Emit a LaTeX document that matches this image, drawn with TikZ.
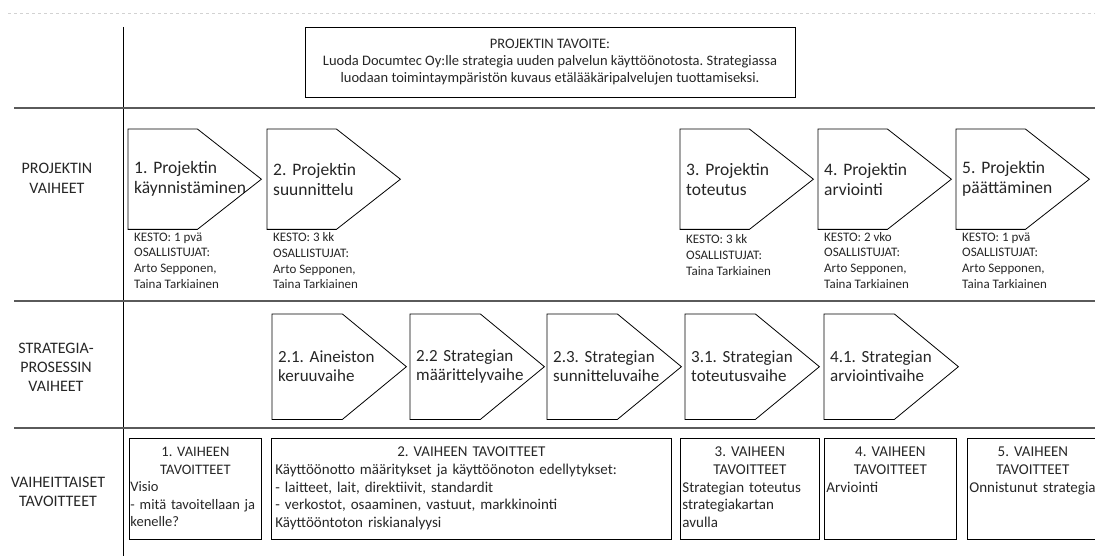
\documentclass[tikz,border=0pt]{standalone}
\usepackage{fontspec}
\setmainfont{Carlito}
\frenchspacing
\usetikzlibrary{positioning}
\definecolor{rivi}{HTML}{5a5a5a}
\definecolor{teksti}{HTML}{262626}

\tikzset{
  vaihe/.style={anchor=north west, minimum width=133pt, minimum height=100pt,
    text width=121pt, inner xsep=6pt, inner ysep=0pt, align=left,
    text=teksti, font=\fontsize{17.5}{20}\selectfont},
  alavaihe/.style={vaihe, minimum width=134pt, minimum height=105pt,
    text width=122pt, font=\fontsize{17}{19}\selectfont},
  kesto/.style={anchor=north west, inner sep=0pt, align=left, text=teksti,
    font=\fontsize{13}{15.7}\selectfont},
  otsikko/.style={align=center, text=teksti, font=\fontsize{16}{20}\selectfont},
  laatikko/.style={draw, line width=0.8pt, anchor=north west, minimum height=101pt},
  tavoite/.style={inner sep=0pt, text=teksti, align=left,
    font=\fontsize{15}{17.6}\selectfont}
}

\begin{document}
\begin{tikzpicture}[x=1pt,y=-1pt]
\useasboundingbox (0,0) rectangle (1095,556);

% rivit ja sarake
\draw[gray!35, dashed] (8,13) -- (1095,13);
\draw[line width=0.8pt] (123,27) -- (123,556);
\draw[rivi, line width=2.4pt] (14,108) -- (1095,108);
\draw[rivi, line width=2.4pt] (14,301) -- (1095,301);
\draw[rivi, line width=2.4pt] (14,428) -- (1095,428);

\node[draw, line width=0.8pt, minimum width=490pt, minimum height=70pt, align=center,
  text=teksti, font=\fontsize{14.5}{17}\selectfont] (tav) at (550,62)
{PROJEKTIN TAVOITE:\\Luoda Documtec Oy:lle strategia uuden palvelun käyttöönotosta. Strategiassa\\
luodaan toimintaympäristön kuvaus etälääkäripalvelujen tuottamiseksi.};

% vasen sarake
\node[otsikko] (ot1) at (57,178) {PROJEKTIN\\VAIHEET};
\node[otsikko, font=\fontsize{16}{19}\selectfont] (ot2) at (56,367) {STRATEGIA-\\PROSESSIN\\VAIHEET};
\node[otsikko, font=\fontsize{16}{19}\selectfont] (ot3) at (58,492) {VAIHEITTAISET\\TAVOITTEET};

% projektin vaiheet
\node[vaihe] (p1) at (128,129) {1. Projektin\\käynnistäminen};
\node[vaihe] (p2) at (267,129) {2. Projektin\\suunnittelu};
\node[vaihe] (p3) at (680,129) {3. Projektin\\toteutus};
\node[vaihe] (p4) at (818,129) {4. Projektin\\arviointi};
\node[vaihe] (p5) at (956,129) {5. Projektin\\päättäminen};

\node[kesto] (k1) at ([xshift=6pt,yshift=-3pt]p1.south west) {KESTO: 1 pvä\\OSALLISTUJAT:\\Arto Sepponen,\\Taina Tarkiainen};
\node[kesto] (k2) at ([xshift=6pt,yshift=-3pt]p2.south west) {KESTO: 3 kk\\OSALLISTUJAT:\\Arto Sepponen,\\Taina Tarkiainen};
\node[kesto] (k3) at ([xshift=6pt,yshift=-5pt]p3.south west) {KESTO: 3 kk\\OSALLISTUJAT:\\Taina Tarkiainen};
\node[kesto] (k4) at ([xshift=6pt,yshift=-2.5pt]p4.south west) {KESTO: 2 vko\\OSALLISTUJAT:\\Arto Sepponen,\\Taina Tarkiainen};
\node[kesto] (k5) at ([xshift=6pt,yshift=-3pt]p5.south west) {KESTO: 1 pvä\\OSALLISTUJAT:\\Arto Sepponen,\\Taina Tarkiainen};

% strategiaprosessin vaiheet
\node[alavaihe] (s1) at (272,314) {2.1. Aineiston\\keruuvaihe};
\node[alavaihe] (s2) at (410,314) {2.2 Strategian\\määrittelyvaihe};
\node[alavaihe] (s3) at (547,314) {2.3. Strategian\\sunnitteluvaihe};
\node[alavaihe] (s4) at (685,314) {3.1. Strategian\\toteutusvaihe};
\node[alavaihe] (s5) at (824,314) {4.1. Strategian\\arviointivaihe};

\foreach \n in {p1,p2,p3,p4,p5,s1,s2,s3,s4,s5}
  \draw[line width=0.8pt, line join=miter] (\n.north west) -- ([xshift=-64pt]\n.north east)
    -- (\n.east) -- ([xshift=-64pt]\n.south east) -- (\n.south west) -- cycle;

% vaiheittaiset tavoitteet
\node[laatikko, minimum width=132pt] (t1) at (129,438) {};
\node[laatikko, minimum width=400pt] (t2) at (271,438) {};
\node[laatikko, minimum width=139pt] (t3) at (680,438) {};
\node[laatikko, minimum width=132pt] (t4) at (824,438) {};
\node[laatikko, minimum width=131pt] (t5) at (967,438) {};

\node[tavoite, text width=130pt, font=\fontsize{14.5}{17.6}\selectfont, below=9pt of t1.north] (v1)
{{\centering 1. VAIHEEN\\TAVOITTEET\par}Visio\\- mitä tavoitellaan ja\\kenelle?};
\node[tavoite, text width=392pt, below=9pt of t2.north] (v2)
{{\centering 2. VAIHEEN TAVOITTEET\par}Käyttöönotto määritykset ja käyttöönoton edellytykset:\\
- laitteet, lait, direktiivit, standardit\\- verkostot, osaaminen, vastuut, markkinointi\\Käyttööntoton riskianalyysi};
\node[tavoite, text width=135pt, below=9pt of t3.north] (v3)
{{\centering 3. VAIHEEN\\TAVOITTEET\par}Strategian toteutus\\strategiakartan\\avulla};
\node[tavoite, text width=128pt, below=9pt of t4.north] (v4)
{{\centering 4. VAIHEEN\\TAVOITTEET\par}Arviointi};
\node[tavoite, text width=127pt, below=9pt of t5.north] (v5)
{{\centering 5. VAIHEEN\\TAVOITTEET\par}Onnistunut strategia};

\end{tikzpicture}
\end{document}
